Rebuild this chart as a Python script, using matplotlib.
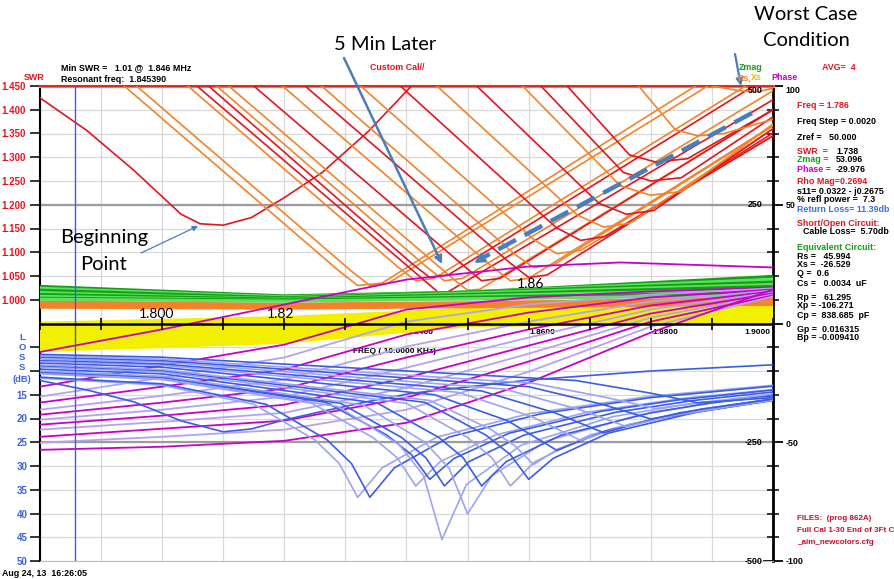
import matplotlib
matplotlib.use("Agg")
import matplotlib.pyplot as plt
from matplotlib.patches import FancyArrowPatch
from matplotlib.lines import Line2D
from matplotlib.ticker import MultipleLocator, FixedLocator

# ---------------------------------------------------------------- data
FREQ_LIMITS = (1.78, 1.90)
FREQ_LABELS = [1.78, 1.80, 1.82, 1.84, 1.86, 1.88, 1.90]
MARKER_FREQ = 1.7857

SWR_TICKS = [1.00, 1.05, 1.10, 1.15, 1.20, 1.25, 1.30, 1.35, 1.40, 1.45]
SWR_TICK_LABELS = ["1.000", "1.050", "1.100", "1.150", "1.200",
                   "1.250", "1.300", "1.350", "1.400", "1.450"]
LOSS_TICKS = [5, 10, 15, 20, 25, 30, 35, 40, 45, 50]
LOSS_TICK_LABELS = ["", "", "15", "20", "25", "30", "35", "40", "45", "50"]
PHASE_TICKS = [-100, -50, 0, 50, 100]
PHASE_TICK_LABELS = ["-100", "-50", "0", "50", "100"]
Z_TICKS = [500, 250, -250, -500]

# SWR sweeps: 'r' = red trace, 'o' = orange trace
SWR_COLORS = ["r", "o", "o", "o", "r", "r", "o", "o", "r", "o", "r",
              "o", "o", "r", "o", "r", "o", "r", "r", "o", "o"]
SWR_FREQ = [
    [1.7800, 1.7877, 1.7954, 1.8031, 1.8062, 1.8100, 1.8146, 1.8200, 1.8262, 1.8338, 1.8408],
    [1.7938, 1.8290, 1.8320, 1.8360, 1.8873],
    [1.7958, 1.8310, 1.8340, 1.8370, 1.8893],
    [1.8042, 1.8385, 1.8415, 1.8445, 1.8955],
    [1.8076, 1.8410, 1.8438, 1.8468, 1.8968],
    [1.8057, 1.8458, 1.9000],
    [1.8089, 1.8432, 1.8462, 1.8492, 1.9000],
    [1.8109, 1.8480, 1.8500, 1.8520, 1.9000],
    [1.8150, 1.8495, 1.8523, 1.8553, 1.9000],
    [1.8197, 1.8540, 1.8570, 1.8600, 1.9000],
    [1.8234, 1.8570, 1.8600, 1.8630, 1.9000],
    [1.8261, 1.8578, 1.8608, 1.8640, 1.9000],
    [1.8325, 1.8610, 1.8646, 1.8685, 1.9000],
    [1.8390, 1.8645, 1.8685, 1.8725, 1.9000],
    [1.8450, 1.8680, 1.8723, 1.8765, 1.9000],
    [1.8515, 1.8715, 1.8760, 1.8805, 1.9000],
    [1.8590, 1.8750, 1.8800, 1.8850, 1.9000],
    [1.8620, 1.8755, 1.8800, 1.8850, 1.9000],
    [1.8663, 1.8765, 1.8808, 1.8860, 1.9000],
    [1.8780, 1.8840, 1.8877, 1.8920, 1.9000],
    [1.8900, 1.8945, 1.8975, 1.9000],
]
SWR_VALS = [
    [1.425, 1.356, 1.272, 1.180, 1.160, 1.157, 1.173, 1.215, 1.268, 1.355, 1.450],
    [1.450, 1.060, 1.030, 1.035, 1.450],
    [1.450, 1.060, 1.030, 1.035, 1.450],
    [1.450, 1.070, 1.040, 1.045, 1.450],
    [1.450, 1.075, 1.047, 1.052, 1.450],
    [1.450, 1.009, 1.421],
    [1.450, 1.070, 1.040, 1.045, 1.440],
    [1.450, 1.040, 1.020, 1.022, 1.400],
    [1.450, 1.070, 1.040, 1.045, 1.400],
    [1.450, 1.070, 1.040, 1.045, 1.367],
    [1.450, 1.077, 1.047, 1.052, 1.351],
    [1.450, 1.095, 1.068, 1.073, 1.366],
    [1.450, 1.125, 1.097, 1.104, 1.345],
    [1.450, 1.152, 1.125, 1.133, 1.345],
    [1.450, 1.178, 1.153, 1.161, 1.360],
    [1.450, 1.203, 1.180, 1.188, 1.360],
    [1.450, 1.240, 1.220, 1.228, 1.370],
    [1.450, 1.268, 1.250, 1.257, 1.385],
    [1.450, 1.305, 1.290, 1.297, 1.400],
    [1.450, 1.358, 1.345, 1.350, 1.380],
    [1.450, 1.440, 1.438, 1.445],
]

# impedance traces (ohms, inner right scale)
BAND_FREQ = [1.78, 1.80, 1.82, 1.85, 1.90]
ZMAG_VALS = [
    [78, 68, 58, 66, 99],
    [74, 65, 56, 66, 93],
    [70, 62, 54, 66, 87],
    [65, 58, 52, 64, 82],
    [61, 56, 51, 61, 78],
    [57, 53, 49, 58, 72],
    [53, 51, 49, 55, 65],
    [51, 49, 47, 52, 59],
]
RS_VALS = [
    [46, 43, 41, 44, 52],
    [44, 41, 40, 42, 55],
    [40, 38, 37, 40, 49],
    [38, 36, 35, 37, 44],
    [34, 33, 32, 35, 40],
]
XS_VALS = [
    [0, 6, 12, 29, 43],
    [-6, 0, 6, 25, 39],
    [-12, -6, 0, 21, 35],
    [-18, -12, -6, 17, 31],
    [-24, -18, -12, 13, 27],
    [-30, -23, -17, 9, 23],
    [-36, -29, -23, 6, 19],
    [-42, -35, -28, 3, 14],
    [-49, -41, -33, 0, 9],
    [-56, -48, -39, -4, 3],
]

# phase traces (degrees, outer right scale)
PHASE_FREQ = [1.78, 1.80, 1.82, 1.84, 1.86, 1.88, 1.90]
PHASE_VALS = [
    [-26.6, -17.7, -8.9, 5.9, 11.0, 13.5, 15.2],
    [-30.8, -22.8, -14.3, 0.8, 8.0, 12.2, 14.8],
    [-33.3, -26.6, -19.4, -4.6, 4.6, 11.0, 14.3],
    [-36.3, -30.4, -23.6, -9.7, 0.8, 9.3, 13.9],
    [-38.4, -33.3, -27.4, -14.3, -2.5, 7.6, 13.5],
    [-40.5, -36.3, -30.8, -18.6, -5.9, 5.9, 13.1],
    [-42.6, -38.8, -34.2, -22.8, -9.3, 4.2, 12.7],
    [-44.7, -41.4, -37.6, -27.0, -12.7, 2.5, 12.2],
    [-47.7, -44.3, -40.9, -31.2, -16.0, 0.8, 11.8],
    [-50.2, -47.7, -44.7, -36.3, -20.3, -1.3, 11.4],
    [-53.2, -51.9, -49.4, -41.8, -24.9, -3.8, 14.3],
]
HUMP_FREQ = [1.78, 1.80, 1.82, 1.84, 1.86, 1.875, 1.90]
HUMP_VALS = [-12.0, -2.5, 8.0, 18.5, 24.0, 25.7, 23.6]

# return loss traces (dB, lower left scale)
RL_FREQ = [
    [1.78, 1.7877, 1.7954, 1.8031, 1.810, 1.8146, 1.82, 1.8262, 1.8338, 1.8408, 1.86, 1.88, 1.90],
    [1.78, 1.80, 1.815, 1.825, 1.829, 1.832, 1.836, 1.845, 1.860, 1.88, 1.90],
    [1.78, 1.80, 1.817, 1.827, 1.831, 1.834, 1.838, 1.847, 1.862, 1.88, 1.90],
    [1.78, 1.80, 1.8245, 1.8345, 1.8385, 1.8415, 1.8455, 1.8545, 1.8695, 1.885, 1.90],
    [1.78, 1.80, 1.8268, 1.8368, 1.8408, 1.8438, 1.8478, 1.8568, 1.8718, 1.885, 1.90],
    [1.78, 1.80, 1.8288, 1.8388, 1.8428, 1.8458, 1.8498, 1.8588, 1.8738, 1.885, 1.90],
    [1.78, 1.80, 1.8292, 1.8392, 1.8432, 1.8462, 1.8502, 1.8592, 1.8742, 1.887, 1.90],
    [1.78, 1.80, 1.833, 1.843, 1.847, 1.850, 1.854, 1.863, 1.878, 1.89, 1.90],
    [1.78, 1.80, 1.8353, 1.8453, 1.8493, 1.8523, 1.8563, 1.8653, 1.8803, 1.89, 1.90],
    [1.78, 1.80, 1.840, 1.850, 1.854, 1.857, 1.861, 1.870, 1.885, 1.90],
    [1.78, 1.80, 1.843, 1.853, 1.857, 1.860, 1.864, 1.873, 1.888, 1.90],
    [1.78, 1.80, 1.8438, 1.8538, 1.8578, 1.8608, 1.8648, 1.8738, 1.8888, 1.90],
    [1.78, 1.80, 1.8446, 1.8566, 1.8646, 1.8726, 1.8846, 1.90],
    [1.78, 1.80, 1.8485, 1.8605, 1.8685, 1.8765, 1.8885, 1.90],
    [1.78, 1.80, 1.8523, 1.8643, 1.8723, 1.8803, 1.90],
    [1.78, 1.80, 1.856, 1.868, 1.876, 1.884, 1.90],
    [1.78, 1.80, 1.860, 1.872, 1.880, 1.888, 1.90],
    [1.78, 1.80, 1.8608, 1.8728, 1.8808, 1.8888, 1.90],
    [1.78, 1.80, 1.8677, 1.8797, 1.8877, 1.90],
]
RL_VALS = [
    [12.0, 14.0, 16.5, 20.5, 22.8, 22.2, 20.3, 18.5, 16.4, 14.7, 11.9, 10.0, 8.7],
    [11.5, 13.0, 17.0, 24.5, 29.5, 36.6, 30.4, 23.9, 19.0, 15.3, 13.0],
    [11.3, 12.7, 17.0, 24.5, 29.5, 36.6, 30.4, 23.9, 19.0, 15.6, 13.2],
    [10.6, 11.8, 16.8, 24.0, 28.3, 34.2, 29.1, 23.5, 18.7, 15.8, 13.9],
    [10.3, 11.5, 16.6, 23.5, 27.6, 32.8, 28.4, 23.1, 18.5, 16.0, 14.0],
    [10.4, 11.6, 17.5, 25.5, 32.0, 45.5, 33.9, 25.6, 19.6, 17.2, 14.8],
    [10.2, 11.3, 16.8, 24.0, 28.3, 34.2, 29.1, 23.5, 18.7, 16.2, 14.4],
    [10.0, 11.1, 17.2, 25.0, 30.5, 40.1, 32.0, 24.7, 19.3, 16.7, 15.2],
    [9.6, 10.6, 16.8, 24.0, 28.3, 34.2, 29.1, 23.5, 18.7, 16.7, 15.2],
    [9.2, 10.2, 16.8, 24.0, 28.3, 34.2, 29.1, 23.5, 18.7, 15.9],
    [8.9, 9.9, 16.6, 23.5, 27.6, 32.8, 28.4, 23.1, 18.5, 16.2],
    [8.7, 9.7, 16.2, 22.3, 25.8, 29.7, 26.4, 22.1, 17.9, 15.9],
    [8.3, 9.2, 15.0, 20.5, 26.7, 22.6, 18.9, 15.9],
    [8.0, 8.8, 14.5, 19.6, 24.6, 21.2, 18.1, 16.0],
    [7.7, 8.5, 14.2, 18.8, 23.0, 20.2, 16.1],
    [7.5, 8.1, 13.8, 18.0, 21.7, 19.3, 16.1],
    [7.1, 7.8, 13.3, 17.0, 20.1, 18.1, 15.9],
    [6.8, 7.5, 12.6, 15.6, 17.9, 16.5, 15.6],
    [6.5, 7.1, 12.0, 14.6, 16.7, 15.6],
]

# ---------------------------------------------------------------- style
RED, ORANGE = "#e3151f", "#f3832a"
SWR_PALETTE = {"r": RED, "o": ORANGE}
GREENS = ["#14a014", "#5fe05f"]
YELLOW = "#f2ef00"
MAGENTAS = ["#c800c8", "#b5a2ef"]
BLUES = ["#3a5de6", "#9da3f1"]
LOSS_BLUE = "#3a64d8"
NOTE_BLUE = "#4a7ebb"
TXT = dict(family="Liberation Sans", weight="bold", size=6.4)
AXTXT = {**TXT, "size": 7.0}
BIG = dict(family="Lato", size=14.5)

W, H = 895, 579
fig = plt.figure(figsize=(W / 100, H / 100), dpi=100)
fig.patch.set_facecolor("white")


def box(x0, y0, x1, y1):
    return [x0 / W, 1 - y1 / H, (x1 - x0) / W, (y1 - y0) / H]


def ftext(x, y, s, color="black", ha="left", style=TXT, **kw):
    fig.text(x / W, 1 - y / H, s, color=color, ha=ha, va="center", **style, **kw)


X0, X1 = 40, 773
YT, YM, YB = 86, 323.5, 561

# base axes: grid, frame and the phase scale on the right
ax = fig.add_axes(box(X0, YT, X1, YB))
ax.set_xlim(*FREQ_LIMITS)
ax.set_ylim(-100, 100)
ax.xaxis.set_major_locator(MultipleLocator(0.01))
ax.yaxis.tick_right()
ax.yaxis.set_major_locator(FixedLocator(PHASE_TICKS))
ax.yaxis.set_minor_locator(MultipleLocator(10))
ax.set_yticklabels(PHASE_TICK_LABELS, **TXT)
ax.get_yticklabels()[-1].set_va("top")
ax.grid(True, which="both", color="#d9d9d9", lw=0.9)
ax.tick_params(axis="x", length=0, labelbottom=False)
ax.tick_params(axis="y", which="major", direction="inout", length=15, width=1.3, pad=1.5)
ax.tick_params(axis="y", which="minor", direction="inout", length=9, width=1.1)
ax.axhline(50, color="#9c9c9c", lw=1.6)
ax.axhline(-50, color="#9c9c9c", lw=1.6)
ax.spines["top"].set_visible(False)
ax.spines["left"].set_linewidth(1.5)
ax.spines["right"].set_linewidth(2.0)
ax.spines["bottom"].set_color("#bdbdbd")
for f in FREQ_LABELS:
    if f < FREQ_LIMITS[1]:
        ax.text(f + 0.0002, -4, f"{f:.4f}", ha="left", va="center", **{**TXT, "size": 6})
    else:
        ax.text(f - 0.0005, -4, f"{f:.4f}", ha="right", va="center", **{**TXT, "size": 6})
ax.text(1.8380, -11.6, "FREQ ( 10.0000 KHz)", ha="center", va="center", **{**TXT, "size": 6})

# SWR panel (upper half)
ax_swr = fig.add_axes(box(X0, YT, X1, YM), facecolor="none")
ax_swr.set_xlim(*FREQ_LIMITS)
ax_swr.set_ylim(0.95, 1.45)
for sp in ax_swr.spines.values():
    sp.set_visible(False)
ax_swr.set_xticks([])
ax_swr.set_yticks(SWR_TICKS)
ax_swr.set_yticklabels(SWR_TICK_LABELS, color=RED, **AXTXT)
ax_swr.tick_params(axis="y", direction="out", length=7, width=1.1, pad=3)
ax_swr.axhline(1.45, color=ORANGE, lw=2.2, clip_on=False)
ax_swr.axhline(1.45, color=RED, lw=1.2, clip_on=False)
for f, v, c in zip(SWR_FREQ, SWR_VALS, SWR_COLORS):
    ax_swr.plot(f, v, color=SWR_PALETTE[c], lw=1.2, solid_joinstyle="round")

# impedance traces on the inner right scale
ax_z = fig.add_axes(box(X0, YT, X1, YB), facecolor="none")
ax_z.set_xlim(*FREQ_LIMITS)
ax_z.set_ylim(-500, 500)
ax_z.axis("off")
for v in XS_VALS:
    ax_z.plot(BAND_FREQ, v, color=YELLOW, lw=2.6)
for v in RS_VALS:
    ax_z.plot(BAND_FREQ, v, color=ORANGE, lw=2.0)
for i, v in enumerate(ZMAG_VALS):
    ax_z.plot(BAND_FREQ, v, color=GREENS[i % 2], lw=2.3)
for z in Z_TICKS:
    ax_z.text(0.986, z, f"{z}", transform=ax_z.get_yaxis_transform(),
              ha="right", va="top" if z == Z_TICKS[0] else "center", **TXT)

# phase traces
ax_ph = fig.add_axes(box(X0, YT, X1, YB), facecolor="none")
ax_ph.set_xlim(*FREQ_LIMITS)
ax_ph.set_ylim(-100, 100)
ax_ph.axis("off")
for i, v in enumerate(PHASE_VALS):
    ax_ph.plot(PHASE_FREQ, v, color=MAGENTAS[i % 2], lw=1.3)
ax_ph.plot(HUMP_FREQ, HUMP_VALS, color=MAGENTAS[0], lw=1.3)

# return loss panel (lower half)
ax_rl = fig.add_axes(box(X0, YM, X1, YB), facecolor="none")
ax_rl.set_xlim(*FREQ_LIMITS)
ax_rl.set_ylim(50, 0)
for sp in ax_rl.spines.values():
    sp.set_visible(False)
ax_rl.set_xticks([])
ax_rl.set_yticks(LOSS_TICKS)
ax_rl.set_yticklabels(LOSS_TICK_LABELS, color=LOSS_BLUE, **AXTXT)
ax_rl.tick_params(axis="y", direction="out", length=7, width=1.1, pad=2)
for i, (f, v) in enumerate(zip(RL_FREQ, RL_VALS)):
    ax_rl.plot(f, v, color=BLUES[i % 2], lw=1.2)

# frequency axis line with marker cursor
ax_top = fig.add_axes(box(X0, YT, X1, YB), facecolor="none")
ax_top.set_xlim(*FREQ_LIMITS)
ax_top.set_ylim(-100, 100)
for side in ("top", "left", "right"):
    ax_top.spines[side].set_visible(False)
ax_top.spines["bottom"].set_position(("data", 0))
ax_top.spines["bottom"].set_linewidth(1.8)
ax_top.xaxis.set_major_locator(MultipleLocator(0.01))
ax_top.tick_params(axis="x", direction="inout", length=8, width=1.2, labelbottom=False)
ax_top.set_yticks([])
ax_top.axvline(MARKER_FREQ, color="#3d55ff", lw=1.0)

# ---------------------------------------------------------------- header texts
ftext(61, 68, "Min SWR =   1.01 @  1.846 MHz")
ftext(61, 79, "Resonant freq:  1.845390")
ftext(34, 78, "SWR", color=RED, ha="center")
ftext(370, 68, "Custom Cal//", color=RED)
ftext(739, 68, "Zmag", color="#14a014")
ftext(737, 78, "Rs,", color=ORANGE)
ftext(751, 78, "Xs", color="#e2c400")
ftext(771, 78, "Phase", color="#c800c8")
ftext(822, 68, "AVG=  4", color=RED)
ftext(2, 573, "Aug 24, 13  16:26:05")

for y, s in zip([337, 347, 358, 368, 379], ["L", "O", "S", "S", "(dB)"]):
    ftext(22, y, s, color=LOSS_BLUE, ha="center", style={**TXT, "size": 6.8})

# readout panel
RX = 797
ftext(RX, 105, "Freq = 1.786", color=RED)
ftext(RX, 122, "Freq Step = 0.0020")
ftext(RX, 138, "Zref =   50.000")
ftext(RX, 151, "SWR  =", color=RED)
ftext(836, 151, "1.738")
ftext(RX, 160, "Zmag =", color="#14a014")
ftext(836, 160, "53.096")
ftext(RX, 169, "Phase =", color="#c800c8")
ftext(836, 169, "-29.976")
ftext(RX, 182, "Rho Mag=0.2694", color=RED)
ftext(RX, 191, "s11= 0.0322 - j0.2675")
ftext(RX, 200, "% refl power =  7.3")
ftext(RX, 209, "Return Loss= 11.39db", color="#3a70e0")
ftext(RX, 223, "Short/Open Circuit:", color=RED)
ftext(RX + 6, 232, "Cable Loss=  5.70db")
ftext(RX, 247, "Equivalent Circuit:", color="#14a014")
for y, s in zip([257, 265, 274, 283, 297, 306, 315, 329, 338],
                ["Rs =   45.994", "Xs =  -26.529", "Q =  0.6", "Cs =   0.0034  uF",
                 "Rp =   61.295", "Xp = -106.271", "Cp =  838.685  pF",
                 "Gp =  0.016315", "Bp = -0.009410"]):
    ftext(RX, y, s)
FILE_TXT = {**TXT, "size": 5.8}
ftext(RX, 518, "FILES:  (prog 862A)", color="#c8102e", style=FILE_TXT)
ftext(RX, 531, "Full Cal 1-30 End of 3Ft C", color="#c8102e", style=FILE_TXT)
ftext(RX, 543, "_aim_newcolors.cfg", color="#c8102e", style=FILE_TXT)

# ---------------------------------------------------------------- callouts
ftext(385, 44, "5 Min Later", ha="center", style=BIG)
ftext(806, 15, "Worst Case", ha="center", style=BIG)
ftext(806, 41, "Condition", ha="center", style=BIG)
ftext(104, 238, "Beginning", ha="center", style=BIG)
ftext(104, 264, "Point", ha="center", style=BIG)
ftext(157, 314, "1.800", ha="center", style={**BIG, "size": 10})
ftext(281, 314, "1.82", ha="center", style={**BIG, "size": 10})
ftext(531, 284, "1.86", ha="center", style={**BIG, "size": 10})


def fpt(p):
    return (p[0] / W, 1 - p[1] / H)


def arrow(p0, p1, lw, ms):
    fig.add_artist(FancyArrowPatch(fpt(p0), fpt(p1), transform=fig.transFigure,
                                   arrowstyle="-|>", mutation_scale=ms, color=NOTE_BLUE,
                                   lw=lw, shrinkA=0, shrinkB=0))


arrow((344, 58), (442, 264), 1.8, 11)
arrow((735, 54), (741, 86), 1.6, 10)
arrow((141, 253), (198, 226), 0.9, 8)
a0, a1 = fpt((752, 113)), fpt((484, 257))
fig.add_artist(Line2D([a0[0], a1[0]], [a0[1], a1[1]], transform=fig.transFigure,
                      color=NOTE_BLUE, lw=3.2, dashes=(4.5, 2.2)))
arrow((488, 255), (474, 263), 2.0, 14)

fig.savefig("out.png", dpi=100)
